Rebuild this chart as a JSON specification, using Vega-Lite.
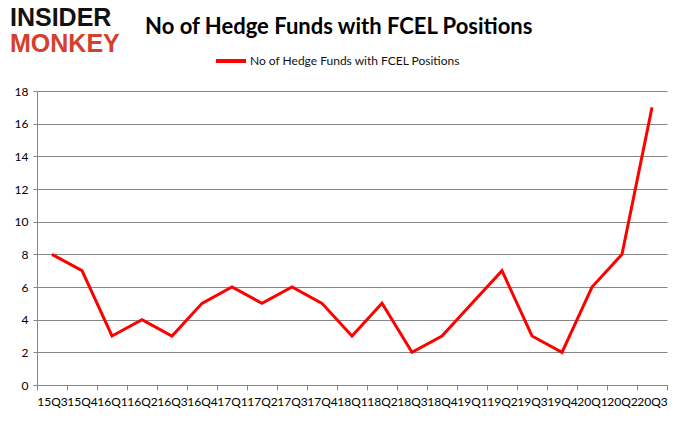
{
  "$schema": "https://vega.github.io/schema/vega-lite/v6.json",
  "autosize": {"type": "none"},
  "width": 630,
  "height": 294,
  "padding": {"left": 37, "top": 91, "right": 10, "bottom": 46},
  "background": "white",
  "title": {"text": "No of Hedge Funds with FCEL Positions", "fontSize": 22, "font": "Lato", "fontWeight": "bold", "anchor": "middle", "frame": "bounds", "color": "#000000", "offset": 0, "dy": 33},
  "config": {"view": {"stroke": null}, "font": "Lato"},
  "data": {"values": [
    {"quarter": "15Q3", "funds": 8},
    {"quarter": "15Q4", "funds": 7},
    {"quarter": "16Q1", "funds": 3},
    {"quarter": "16Q2", "funds": 4},
    {"quarter": "16Q3", "funds": 3},
    {"quarter": "16Q4", "funds": 5},
    {"quarter": "17Q1", "funds": 6},
    {"quarter": "17Q2", "funds": 5},
    {"quarter": "17Q3", "funds": 6},
    {"quarter": "17Q4", "funds": 5},
    {"quarter": "18Q1", "funds": 3},
    {"quarter": "18Q2", "funds": 5},
    {"quarter": "18Q3", "funds": 2},
    {"quarter": "18Q4", "funds": 3},
    {"quarter": "19Q1", "funds": 5},
    {"quarter": "19Q2", "funds": 7},
    {"quarter": "19Q3", "funds": 3},
    {"quarter": "19Q4", "funds": 2},
    {"quarter": "20Q1", "funds": 6},
    {"quarter": "20Q2", "funds": 8},
    {"quarter": "20Q3", "funds": 17}
  ]},
  "layer": [
    {
      "mark": {"type": "line", "strokeWidth": 3},
      "encoding": {
        "x": {
          "field": "quarter", "type": "ordinal", "sort": null,
          "scale": {"type": "band", "paddingInner": 0, "paddingOuter": 0},
          "bandPosition": 0.5,
          "axis": {"title": null, "labelAngle": 0, "labelOverlap": false, "tickBand": "extent", "grid": false,
                   "domainColor": "#868686", "tickColor": "#868686", "tickSize": 5,
                   "labelFontSize": 12, "labelColor": "#000000", "labelPadding": 6, "labelBound": false, "labelFlush": false}
        },
        "y": {
          "field": "funds", "type": "quantitative",
          "scale": {"domain": [0, 18], "nice": false},
          "axis": {"title": null, "values": [0, 2, 4, 6, 8, 10, 12, 14, 16, 18], "tickCount": 20, "labelOverlap": false, "gridColor": "#868686",
                   "domainColor": "#868686", "tickColor": "#868686", "tickSize": 4,
                   "labelFontSize": 12, "labelColor": "#000000", "labelPadding": 5}
        },
        "color": {
          "datum": "No of Hedge Funds with FCEL Positions",
          "scale": {"range": ["#FF0000"]},
          "legend": {"title": null, "orient": "none", "legendX": 177, "legendY": -47, "symbolType": "stroke", "symbolStrokeWidth": 4, "symbolSize": 900,
                     "labelFontSize": 12, "labelOffset": 2, "labelLimit": 400, "labelColor": "#111111", "labelFont": "Lato", "padding": 0}
        }
      }
    },
    {
      "data": {"values": [{"logo": "INSIDER"}]},
      "mark": {"type": "text", "align": "left", "baseline": "middle", "font": "Liberation Sans", "fontWeight": "bold", "fontSize": 25, "color": "#111111", "dx": -42},
      "encoding": {
        "x": {"datum": "15Q3"},
        "y": {"datum": 22.47},
        "text": {"field": "logo"}
      }
    },
    {
      "data": {"values": [{"logo": "MONKEY"}]},
      "mark": {"type": "text", "align": "left", "baseline": "middle", "font": "Liberation Sans", "fontWeight": "bold", "fontSize": 25, "color": "#D6402B", "dx": -42},
      "encoding": {
        "x": {"datum": "15Q3"},
        "y": {"datum": 20.88},
        "text": {"field": "logo"}
      }
    }
  ]
}
